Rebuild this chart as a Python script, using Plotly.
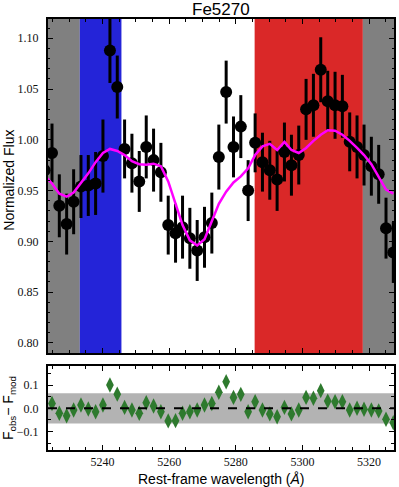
import plotly.graph_objects as go

# Wavelength grid of the binned spectrum (Angstrom)
wave = [5222.6, 5224.8, 5227.0, 5229.2, 5231.3, 5233.5, 5235.7, 5237.9, 5240.1,
        5242.2, 5244.4, 5246.6, 5248.8, 5251.0, 5253.1, 5255.3, 5257.5, 5259.7,
        5261.9, 5264.0, 5266.2, 5268.4, 5270.6, 5272.8, 5274.9, 5277.1, 5279.3,
        5281.5, 5283.7, 5285.8, 5288.0, 5290.2, 5292.4, 5294.6, 5296.7, 5298.9,
        5301.1, 5303.3, 5305.5, 5307.6, 5309.8, 5312.0, 5314.2, 5316.4, 5318.5,
        5320.7, 5322.9, 5325.1, 5327.3]

flux_obs = [0.970, 0.987, 0.935, 0.917, 0.939, 0.954, 0.955, 0.957, 0.984,
            1.088, 1.052, 0.991, 0.977, 0.959, 0.993, 0.980, 0.968, 0.916,
            0.908, 0.914, 0.903, 0.891, 0.904, 0.918, 0.983, 1.047, 0.993,
            1.013, 0.950, 0.997, 0.978, 0.970, 0.961, 0.988, 0.975, 0.985,
            1.030, 1.034, 1.069, 1.038, 1.034, 1.033, 0.998, 0.993, 0.985,
            0.974, 0.966, 0.913, 0.889]

flux_err = [0.030, 0.029, 0.031, 0.030, 0.032, 0.031, 0.030, 0.031, 0.036,
            0.032, 0.031, 0.029, 0.029, 0.030, 0.031, 0.031, 0.029, 0.029,
            0.029, 0.031, 0.030, 0.030, 0.030, 0.030, 0.032, 0.031, 0.030,
            0.031, 0.030, 0.029, 0.029, 0.029, 0.031, 0.029, 0.030, 0.029,
            0.030, 0.031, 0.032, 0.030, 0.033, 0.031, 0.029, 0.031, 0.030,
            0.029, 0.029, 0.030, 0.030]

flux_mod = [0.965, 0.957, 0.947, 0.944, 0.948, 0.957, 0.967, 0.978, 0.987,
            0.991, 0.989, 0.985, 0.979, 0.976, 0.9755, 0.9765, 0.974, 0.959,
            0.938, 0.916, 0.901, 0.896, 0.902, 0.919, 0.937, 0.949, 0.958,
            0.964, 0.972, 0.985, 0.9935, 0.996, 0.990, 0.998, 0.990, 0.987,
            0.992, 0.999, 1.005, 1.0095, 1.009, 1.005, 0.999, 0.992, 0.985,
            0.976, 0.963, 0.951, 0.947]

# Residuals F_obs - F_mod, as plotted (first bin lies outside the panel)
resid = [0.021, -0.021, -0.032, -0.007, 0.014, -0.003, -0.015, 0.014, 0.100,
         0.061, 0.004, -0.007, -0.021, 0.024, 0.010, -0.015, -0.054, -0.053,
         -0.021, -0.015, -0.007, 0.014, 0.021, 0.069, 0.114, 0.047, 0.060,
         -0.015, 0.028, -0.007, -0.024, -0.036, 0.004, -0.024, -0.007, 0.047,
         0.043, 0.076, 0.031, 0.028, 0.028, -0.007, 0.000, -0.004, -0.007,
         -0.011, -0.047, -0.062]

# Lick Fe5270 definition
blue_cont = [5233.15, 5245.65]
red_cont = [5285.65, 5318.15]
x_range = [5223.6, 5327.5]
resid_sigma = 0.065

fig = go.Figure()

# continuum / masked regions
bands = [
    (x_range[0], blue_cont[0], '#808080'),
    (blue_cont[0], blue_cont[1], '#2424d8'),
    (red_cont[0], red_cont[1], '#da2828'),
    (red_cont[1], x_range[1], '#808080'),
]
for x0, x1, col in bands:
    fig.add_shape(type='rect', xref='x', yref='y domain', x0=x0, x1=x1, y0=0, y1=1,
                  fillcolor=col, line_width=0, layer='below')

fig.add_trace(go.Scatter(
    x=wave, y=flux_obs, mode='markers',
    marker=dict(color='black', size=12),
    error_y=dict(type='data', array=flux_err, color='black', thickness=3, width=0),
    xaxis='x', yaxis='y', showlegend=False
))
fig.add_trace(go.Scatter(
    x=wave, y=flux_mod, mode='lines',
    line=dict(color='#ff00ff', width=2.5),
    xaxis='x', yaxis='y', showlegend=False
))

# residual panel
fig.add_shape(type='rect', xref='x2 domain', yref='y2', x0=0, x1=1,
              y0=-resid_sigma, y1=resid_sigma, fillcolor='#b3b3b3',
              line_width=0, layer='below')
fig.add_shape(type='line', xref='x2 domain', yref='y2', x0=0, x1=1, y0=0, y1=0,
              line=dict(color='black', width=2, dash='dash'))
fig.add_trace(go.Scatter(
    x=wave[1:], y=resid, mode='markers',
    marker=dict(symbol='diamond-tall', color='#2e7a2e', size=11,
                line=dict(width=0)),
    xaxis='x2', yaxis='y2', showlegend=False
))

tickfont = dict(family='Liberation Serif', size=12, color='#111111')
axis_common = dict(
    showline=True, linecolor='black', linewidth=2, mirror='allticks',
    ticks='inside', ticklen=5, tickwidth=1, tickcolor='black',
    showgrid=False, zeroline=False, tickfont=tickfont, automargin=False,
)
label_font = dict(family='Liberation Sans', size=14, color='black')

fig.update_layout(
    width=399, height=487,
    margin=dict(l=48, r=5, t=19, b=37),
    paper_bgcolor='white', plot_bgcolor='white',
    xaxis=dict(domain=[0, 1], range=x_range, anchor='y', showticklabels=False,
               dtick=20, tick0=5240,
               minor=dict(ticks='inside', dtick=5, ticklen=3, tickcolor='black'),
               **axis_common),
    yaxis=dict(domain=[0.225, 1], range=[0.79, 1.119], anchor='x',
               dtick=0.05, tickformat='.2f', ticklabelstandoff=5,
               minor=dict(ticks='inside', dtick=0.01, ticklen=2, tickcolor='black'),
               **axis_common),
    xaxis2=dict(domain=[0, 1], range=x_range, anchor='y2', matches='x',
                dtick=20, tick0=5240, ticklabelstandoff=0,
                minor=dict(ticks='inside', dtick=5, ticklen=3, tickcolor='black'),
                **axis_common),
    yaxis2=dict(domain=[0, 0.195], range=[-0.179, 0.182], anchor='x2',
                tickvals=[-0.1, 0.0, 0.1], ticktext=['\u22120.1', '0.0', '0.1'],
                ticklabelstandoff=5,
                minor=dict(ticks='inside', tickvals=[-0.15, -0.05, 0.05, 0.15],
                           ticklen=3, tickcolor='black'),
                **axis_common),
    annotations=[
        dict(text='Fe5270', xref='paper', yref='paper', x=0.5, y=1.021,
             xanchor='center', yanchor='middle', showarrow=False,
             font=dict(family='Liberation Sans', size=17, color='black')),
        dict(text='Normalized Flux', xref='paper', yref='paper', x=-0.113, y=0.627,
             textangle=-90, xanchor='center', yanchor='middle', showarrow=False,
             font=label_font),
        dict(text='F<sub>obs</sub>\u2212 F<sub>mod</sub>', xref='paper', yref='paper',
             x=-0.113, y=0.097, textangle=-90, xanchor='center', yanchor='middle',
             showarrow=False, font=label_font),
        dict(text='Rest-frame wavelength (<i>Å</i>)', xref='paper', yref='paper',
             x=0.5, y=-0.067, xanchor='center', yanchor='middle', showarrow=False,
             font=label_font),
    ],
)

# drop the default 8px page margin so the figure fills the window exactly
fig.write_html("out.html", config={'displayModeBar': False},
               post_script="document.body.style.margin='0';")
